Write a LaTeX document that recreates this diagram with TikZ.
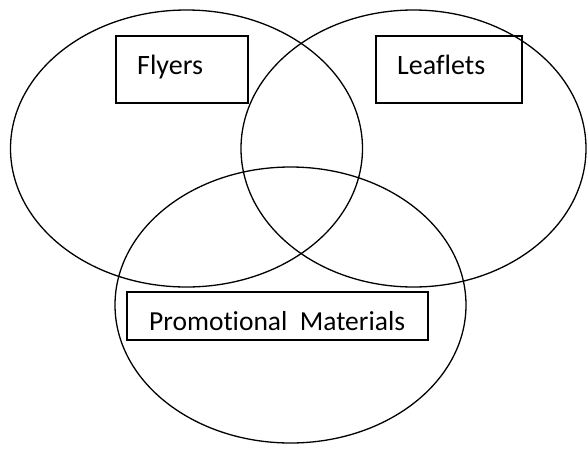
\documentclass[tikz,border=0pt]{standalone}
\usepackage{fontspec}
\setmainfont{Carlito}[Ligatures=NoCommon]
\usetikzlibrary{shapes.geometric}

\begin{document}
\begin{tikzpicture}[x=1pt,y=-1pt,
		set/.style={ellipse,draw=black,line width=1.3pt,inner sep=0pt,outer sep=0pt},
		box/.style={rectangle,draw=black,line width=1.6pt,inner sep=0pt,outer sep=0pt},
		lbl/.style={anchor=base west,inner sep=0pt,font=\fontsize{28}{34}\selectfont}]
					\useasboundingbox (0,0) rectangle (587,448);
					% the three sets
					\node (flyerset)[set,minimum width=352pt,minimum height=277pt] at (186.5,148.5) {};
					\node (leafletset)[set,minimum width=345pt,minimum height=277pt] at (413.5,148.5) {};
					\node (promoset)[set,minimum width=351pt,minimum height=276pt] at (290.5,305) {};
					% labels
					\node (flyersbox)[box,minimum width=132pt,minimum height=67pt] at (182,69.5) {};
					\node (flyers)[lbl] at (137,74) {Flyers};
					\node (leafletsbox)[box,minimum width=146.5pt,minimum height=67pt] at (449,69.5) {};
					\node (leaflets)[lbl] at (397,74) {Leaflets};
					\node (promobox)[box,minimum width=301pt,minimum height=48pt] at (277.5,316) {};
					\node (promo)[lbl,font=\fontsize{27.5}{33}\selectfont] at (149,330) {Promotional\ \ Materials};
				\end{tikzpicture}
\end{document}
